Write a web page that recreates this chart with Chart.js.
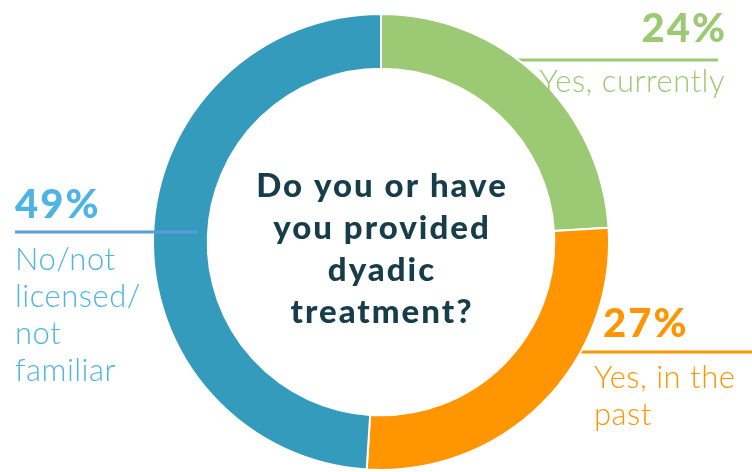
<!DOCTYPE html>
<html>
<head>
<meta charset="utf-8">
<script src="https://cdn.jsdelivr.net/npm/chart.js@4"></script>
<style>
  html, body { margin: 0; padding: 0; background: #fff; }
  canvas { display: block; }
</style>
</head>
<body>
<canvas id="myChart" width="752" height="472"></canvas>
<script>
const categories = ["Yes, currently", "Yes, in the past", "No/not licensed/not familiar"];
const shares = [24, 27, 49];
const labelLines = [["Yes, currently"], ["Yes, in the", "past"], ["No/not", "licensed/", "not", "familiar"]];
const question = ["Do you or have", "you provided", "dyadic", "treatment?"];

const ringColors = ["#9cca74", "#ff9500", "#359bbd"];
const textColors = ["#9cca74", "#ff9500", "#4db4e4"];
const ruleColors = ["#9cca74", "#ff9500", "#5b9bd8"];

// where each callout sits: percent text, rule and caption lines
const callouts = [
    { align: "right", x: 725, pctY: 42, rule: [480, 718, 60], textY: 92 },
    { align: "left", x: 603, pctY: 337, rule: [520, 752, 352], textY: 388, textX: 594 },
    { align: "left", x: 15, pctY: 218, rule: [15, 197, 232], textY: 270 },
];

const calloutPlugin = {
    id: "callouts",
    beforeDatasetsDraw(chart) {
        const ctx = chart.ctx;
        ctx.save();
        // green and orange rules run in under the ring
        [0, 1].forEach((i) => {
            const r = callouts[i].rule;
            ctx.strokeStyle = ruleColors[i];
            ctx.lineWidth = 3;
            ctx.beginPath();
            ctx.moveTo(r[0], r[2]);
            ctx.lineTo(r[1], r[2]);
            ctx.stroke();
        });
        ctx.restore();
    },
    afterDatasetsDraw(chart) {
        const ctx = chart.ctx;
        ctx.save();
        // blue rule crosses over the ring
        const r = callouts[2].rule;
        ctx.strokeStyle = ruleColors[2];
        ctx.lineWidth = 3;
        ctx.beginPath();
        ctx.moveTo(r[0], r[2]);
        ctx.lineTo(r[1], r[2]);
        ctx.stroke();

        ctx.textBaseline = "alphabetic";
        callouts.forEach((c, i) => {
            ctx.fillStyle = textColors[i];
            ctx.textAlign = c.align;
            ctx.font = "900 40px Lato";
            ctx.letterSpacing = "2px";
            ctx.fillText(shares[i] + "%", c.x + (c.align === "right" ? 2 : 0), c.pctY);
            ctx.font = "300 31px Lato";
            ctx.letterSpacing = "0.5px";
            labelLines[i].forEach((line, k) => {
                ctx.fillText(line, c.textX || c.x, c.textY + k * 37);
            });
        });

        // question in the middle of the ring
        const meta = chart.getDatasetMeta(0).data[0];
        ctx.fillStyle = "#173d4b";
        ctx.textAlign = "center";
        ctx.font = "900 33px Lato";
        ctx.letterSpacing = "2px";
        question.forEach((line, k) => {
            ctx.fillText(line, meta.x + 1, 197 + k * 42);
        });
        ctx.restore();
    },
};

const ctx = document.getElementById("myChart");

new Chart(ctx, {
    type: "doughnut",
    data: {
        labels: categories,
        datasets: [
            {
                data: shares,
                backgroundColor: ringColors,
                borderColor: "#ffffff",
                borderWidth: 2,
            },
        ],
    },
    options: {
        responsive: false,
        animation: false,
        cutout: "76%",
        layout: {
            padding: { top: 13, bottom: 1, left: 152, right: 142 },
        },
        plugins: {
            legend: { display: false },
            tooltip: { enabled: false },
        },
    },
    plugins: [calloutPlugin],
});
</script>
</body>
</html>
